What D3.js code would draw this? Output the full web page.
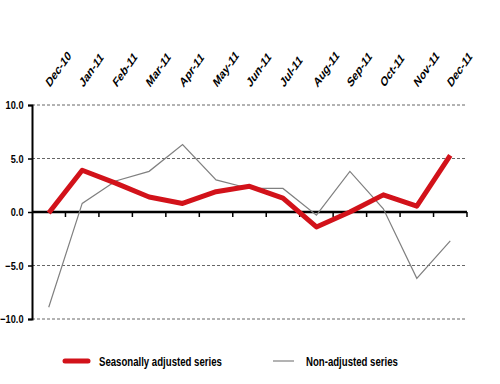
<!DOCTYPE html>
<html>
<head>
<meta charset="utf-8">
<script src="https://cdn.jsdelivr.net/npm/d3@7"></script>
<style>
  body { margin: 0; background: #fff; }
  text { font-family: "Liberation Sans", Arial, sans-serif; font-weight: bold; fill: #000; }
</style>
</head>
<body>
<script>
const months = ["Dec-10","Jan-11","Feb-11","Mar-11","Apr-11","May-11","Jun-11","Jul-11","Aug-11","Sep-11","Oct-11","Nov-11","Dec-11"];
const adjusted = [-0.1, 3.9, 2.7, 1.4, 0.8, 1.9, 2.4, 1.3, -1.4, 0.0, 1.6, 0.55, 5.3];
const nonAdjusted = [-8.9, 0.8, 2.9, 3.8, 6.3, 3.0, 2.2, 2.2, -0.3, 3.8, 0.3, -6.2, -2.7];
const yTicks = [-10, -5, 0, 5, 10];

const width = 500, height = 384;
const mLeft = 32, mRight = 467, mTop = 105, mBottom = 319;

const svg = d3.select("body").append("svg")
    .attr("width", width)
    .attr("height", height);

const x = d3.scaleBand().domain(months).range([mLeft, mRight]);
const y = d3.scaleLinear().domain([-10, 10]).range([mBottom, mTop]);

// dashed gridlines
svg.append("g")
  .selectAll("line")
  .data(yTicks.filter(d => d !== 0))
  .join("line")
    .attr("x1", mLeft).attr("x2", mRight)
    .attr("y1", d => y(d)).attr("y2", d => y(d))
    .attr("stroke", "#666")
    .attr("stroke-width", 1)
    .attr("stroke-dasharray", "3,2");

// y axis
const yAxis = svg.append("g")
    .attr("transform", `translate(${mLeft},0)`)
    .call(d3.axisLeft(y).tickValues(yTicks).tickFormat("").tickSize(4));
yAxis.select(".domain").attr("stroke", "#000").attr("stroke-width", 2);
yAxis.selectAll(".tick line").attr("stroke", "#000").attr("stroke-width", 1.5);

svg.append("g")
  .selectAll("text")
  .data(yTicks)
  .join("text")
    .attr("transform", d => `translate(23.5,${y(d) + 4}) scale(0.8,1)`)
    .attr("text-anchor", "end")
    .attr("font-size", 11.5)
    .text(d3.format(".1f"));

// zero axis with ticks between categories
const zero = svg.append("g");
zero.append("line")
    .attr("x1", mLeft).attr("x2", mRight)
    .attr("y1", y(0)).attr("y2", y(0))
    .attr("stroke", "#000").attr("stroke-width", 2.5);
zero.selectAll(".tk")
  .data(months.slice(1).concat(["end"]))
  .join("line")
    .attr("x1", (d, i) => mLeft + x.step() * (i + 1))
    .attr("x2", (d, i) => mLeft + x.step() * (i + 1))
    .attr("y1", y(0)).attr("y2", y(0) + 5)
    .attr("stroke", "#000").attr("stroke-width", 1.5);

// month labels on top: rotated 45deg, then squeezed like the original picture
svg.append("g")
  .selectAll("text")
  .data(months)
  .join("text")
    .attr("transform", d => `translate(${x(d) + x.bandwidth() / 2 + 1},88) scale(0.7,1) rotate(-45)`)
    .attr("font-size", 13.5)
    .text(d => d);

const line = d3.line()
    .x((d, i) => x(months[i]) + x.bandwidth() / 2)
    .y(d => y(d));

svg.append("path")
    .datum(nonAdjusted)
    .attr("fill", "none")
    .attr("stroke", "#808080")
    .attr("stroke-width", 1.2)
    .attr("d", line);

svg.append("path")
    .datum(adjusted)
    .attr("fill", "none")
    .attr("stroke", "#d2121a")
    .attr("stroke-width", 5)
    .attr("stroke-linejoin", "round")
    .attr("d", line);

// legend
const lg = svg.append("g");
lg.append("line").attr("x1", 65).attr("x2", 88).attr("y1", 361).attr("y2", 361)
    .attr("stroke", "#d2121a").attr("stroke-width", 5).attr("stroke-linecap", "round");
lg.append("text").attr("transform", "translate(99,365.5) scale(0.74,1)")
    .attr("font-size", 13).text("Seasonally adjusted series");
lg.append("line").attr("x1", 273).attr("x2", 294).attr("y1", 361).attr("y2", 361)
    .attr("stroke", "#808080").attr("stroke-width", 1.2);
lg.append("text").attr("transform", "translate(306,365.5) scale(0.74,1)")
    .attr("font-size", 13).text("Non-adjusted series");
</script>
</body>
</html>
